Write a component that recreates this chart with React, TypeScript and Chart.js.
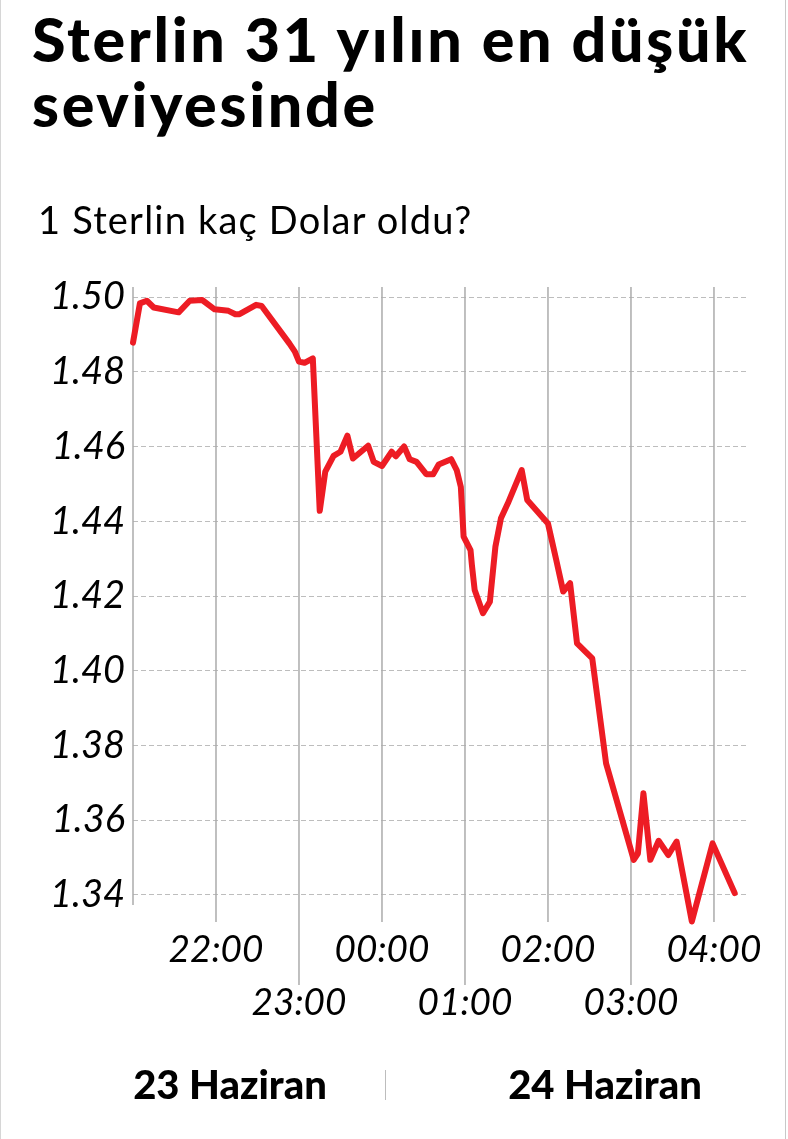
import React, { useEffect, useRef } from "react";
import { Chart, registerables } from "chart.js";

Chart.register(...registerables);

// minutes after 23 Haziran 21:00
const minutesAfter2100 = [
  0, 5, 10, 15, 33, 41, 50, 59, 69, 74, 77, 89, 93, 113, 117, 120, 124, 130,
  135, 139, 145, 150, 155, 159, 170, 174, 180, 187, 190, 196, 200, 205, 212,
  217, 221, 230, 234, 237, 239, 244, 245, 247, 253, 258, 262, 266, 271, 281,
  285, 300, 306, 311, 316, 321, 332, 342, 362, 365, 369, 374, 380, 387, 393,
  404, 419, 435,
];

const gbpUsd = [
  1.4878, 1.4983, 1.499, 1.4972, 1.4959, 1.499, 1.4992, 1.4967, 1.4963, 1.4954,
  1.4954, 1.4979, 1.4976, 1.4876, 1.4854, 1.4827, 1.4824, 1.4836, 1.4428,
  1.4533, 1.4575, 1.4586, 1.4629, 1.4568, 1.4602, 1.4559, 1.4548, 1.4586,
  1.4574, 1.46, 1.4566, 1.4559, 1.4526, 1.4526, 1.4552, 1.4566, 1.4537, 1.4492,
  1.4359, 1.4323, 1.4283, 1.4216, 1.4154, 1.4185, 1.4332, 1.4408, 1.4448,
  1.4537, 1.4457, 1.4394, 1.4296, 1.4212, 1.4234, 1.4073, 1.4033, 1.3752,
  1.3494, 1.3511, 1.3672, 1.3494, 1.3545, 1.3507, 1.3543, 1.3329, 1.3538,
  1.3405,
];

const yTickValues = [1.34, 1.36, 1.38, 1.4, 1.42, 1.44, 1.46, 1.48, 1.5];
const hourTickMinutes = [60, 120, 180, 240, 300, 360, 420];
const hourTickLabels = ["22:00", "23:00", "00:00", "01:00", "02:00", "03:00", "04:00"];
const dayLabels = ["23 Haziran", "24 Haziran"];
const titleLines = ["Sterlin 31 yılın en düşük", "seviyesinde"];
const subtitle = "1 Sterlin kaç Dolar oldu?";

const FONT = "Lato, 'Open Sans', sans-serif";

const hourLinesPlugin = {
  id: "hourLines",
  beforeDatasetsDraw(chart: any) {
    const { ctx, chartArea, scales } = chart;
    const x = scales.x;
    ctx.save();
    ctx.strokeStyle = "#ababab";
    ctx.lineWidth = 1.5;
    const lines = [0, ...hourTickMinutes];
    lines.forEach((m: number, i: number) => {
      const px = x.getPixelForValue(m);
      let bottom: number;
      if (i === 0) bottom = chartArea.bottom - 20;
      else bottom = (i - 1) % 2 === 0 ? chartArea.bottom - 3 : chartArea.bottom + 60;
      ctx.beginPath();
      ctx.moveTo(px, chartArea.top);
      ctx.lineTo(px, bottom);
      ctx.stroke();
    });
    ctx.fillStyle = "#000";
    ctx.font = `italic 37px ${FONT}`;
    ctx.textAlign = "center";
    ctx.textBaseline = "middle";
    hourTickLabels.forEach((lab: string, i: number) => {
      const px = x.getPixelForValue(hourTickMinutes[i]);
      const y = i % 2 === 0 ? chartArea.bottom + 25 : chartArea.bottom + 78;
      ctx.fillText(lab, px, y);
    });
    ctx.restore();
  },
};

export default function App() {
  const canvasRef = useRef<HTMLCanvasElement | null>(null);

  useEffect(() => {
    if (!canvasRef.current) return;
    const points = minutesAfter2100.map((m, i) => ({ x: m, y: gbpUsd[i] }));
    const chart = new Chart(canvasRef.current, {
      type: "line",
      data: {
        datasets: [
          {
            data: points,
            borderColor: "#ED1C24",
            borderWidth: 6,
            pointRadius: 0,
            tension: 0,
            borderJoinStyle: "round",
            borderCapStyle: "round",
            clip: false,
          } as any,
        ],
      },
      options: {
        animation: false,
        responsive: false,
        layout: { padding: { top: 287, bottom: 214, left: 0, right: 40 } },
        plugins: { legend: { display: false }, tooltip: { enabled: false } },
        scales: {
          x: {
            type: "linear",
            display: false,
            min: 0,
            max: 444.6,
          },
          y: {
            type: "linear",
            min: 1.33197,
            max: 1.50268,
            afterBuildTicks: (axis: any) => {
              axis.ticks = yTickValues.map((v) => ({ value: v }));
            },
            afterFit: (scale: any) => {
              scale.width = 133;
            },
            grid: { color: "#bdbdbd", lineWidth: 1, drawTicks: false },
            border: { display: false, dash: [5, 3] },
            ticks: {
              padding: 8,
              color: "#000",
              font: { family: FONT, size: 38, style: "italic" },
              callback: (v: any) => Number(v).toFixed(2),
            },
          },
        },
      },
      plugins: [hourLinesPlugin],
    });
    return () => chart.destroy();
  }, []);

  const dayStyle: React.CSSProperties = {
    position: "absolute",
    top: 1060,
    width: 240,
    textAlign: "center",
    fontSize: 40,
    lineHeight: "48px",
    fontWeight: 900,
    whiteSpace: "nowrap",
  };

  return (
    <div
      style={{
        position: "absolute",
        left: 0,
        top: 0,
        width: 788,
        height: 1139,
        background: "#fff",
        overflow: "hidden",
        fontFamily: FONT,
        color: "#000",
      }}
    >
      <canvas ref={canvasRef} width={788} height={1139} style={{ display: "block", position: "absolute", left: 0, top: 0 }} />
      <div style={{ position: "absolute", left: 0, top: 0, width: 1, height: 1139, background: "#d6d6d6" }} />
      <div style={{ position: "absolute", left: 785, top: 0, width: 1, height: 1139, background: "#c8c8c8" }} />
      <div
        style={{
          position: "absolute",
          left: 32,
          top: 6,
          fontSize: 61,
          lineHeight: "65px",
          fontWeight: 900,
          letterSpacing: "2.7px",
          whiteSpace: "nowrap",
        }}
      >
        {titleLines.map((l) => (
          <div key={l}>{l}</div>
        ))}
      </div>
      <div
        style={{
          position: "absolute",
          left: 38,
          top: 196,
          fontSize: 38,
          lineHeight: "46px",
          letterSpacing: "1.2px",
          whiteSpace: "nowrap",
        }}
      >
        {subtitle}
      </div>
      <div style={{ ...dayStyle, left: 110 }}>{dayLabels[0]}</div>
      <div style={{ position: "absolute", left: 385, top: 1070, width: 1, height: 30, background: "#bdbdbd" }} />
      <div style={{ ...dayStyle, left: 485 }}>{dayLabels[1]}</div>
    </div>
  );
}
